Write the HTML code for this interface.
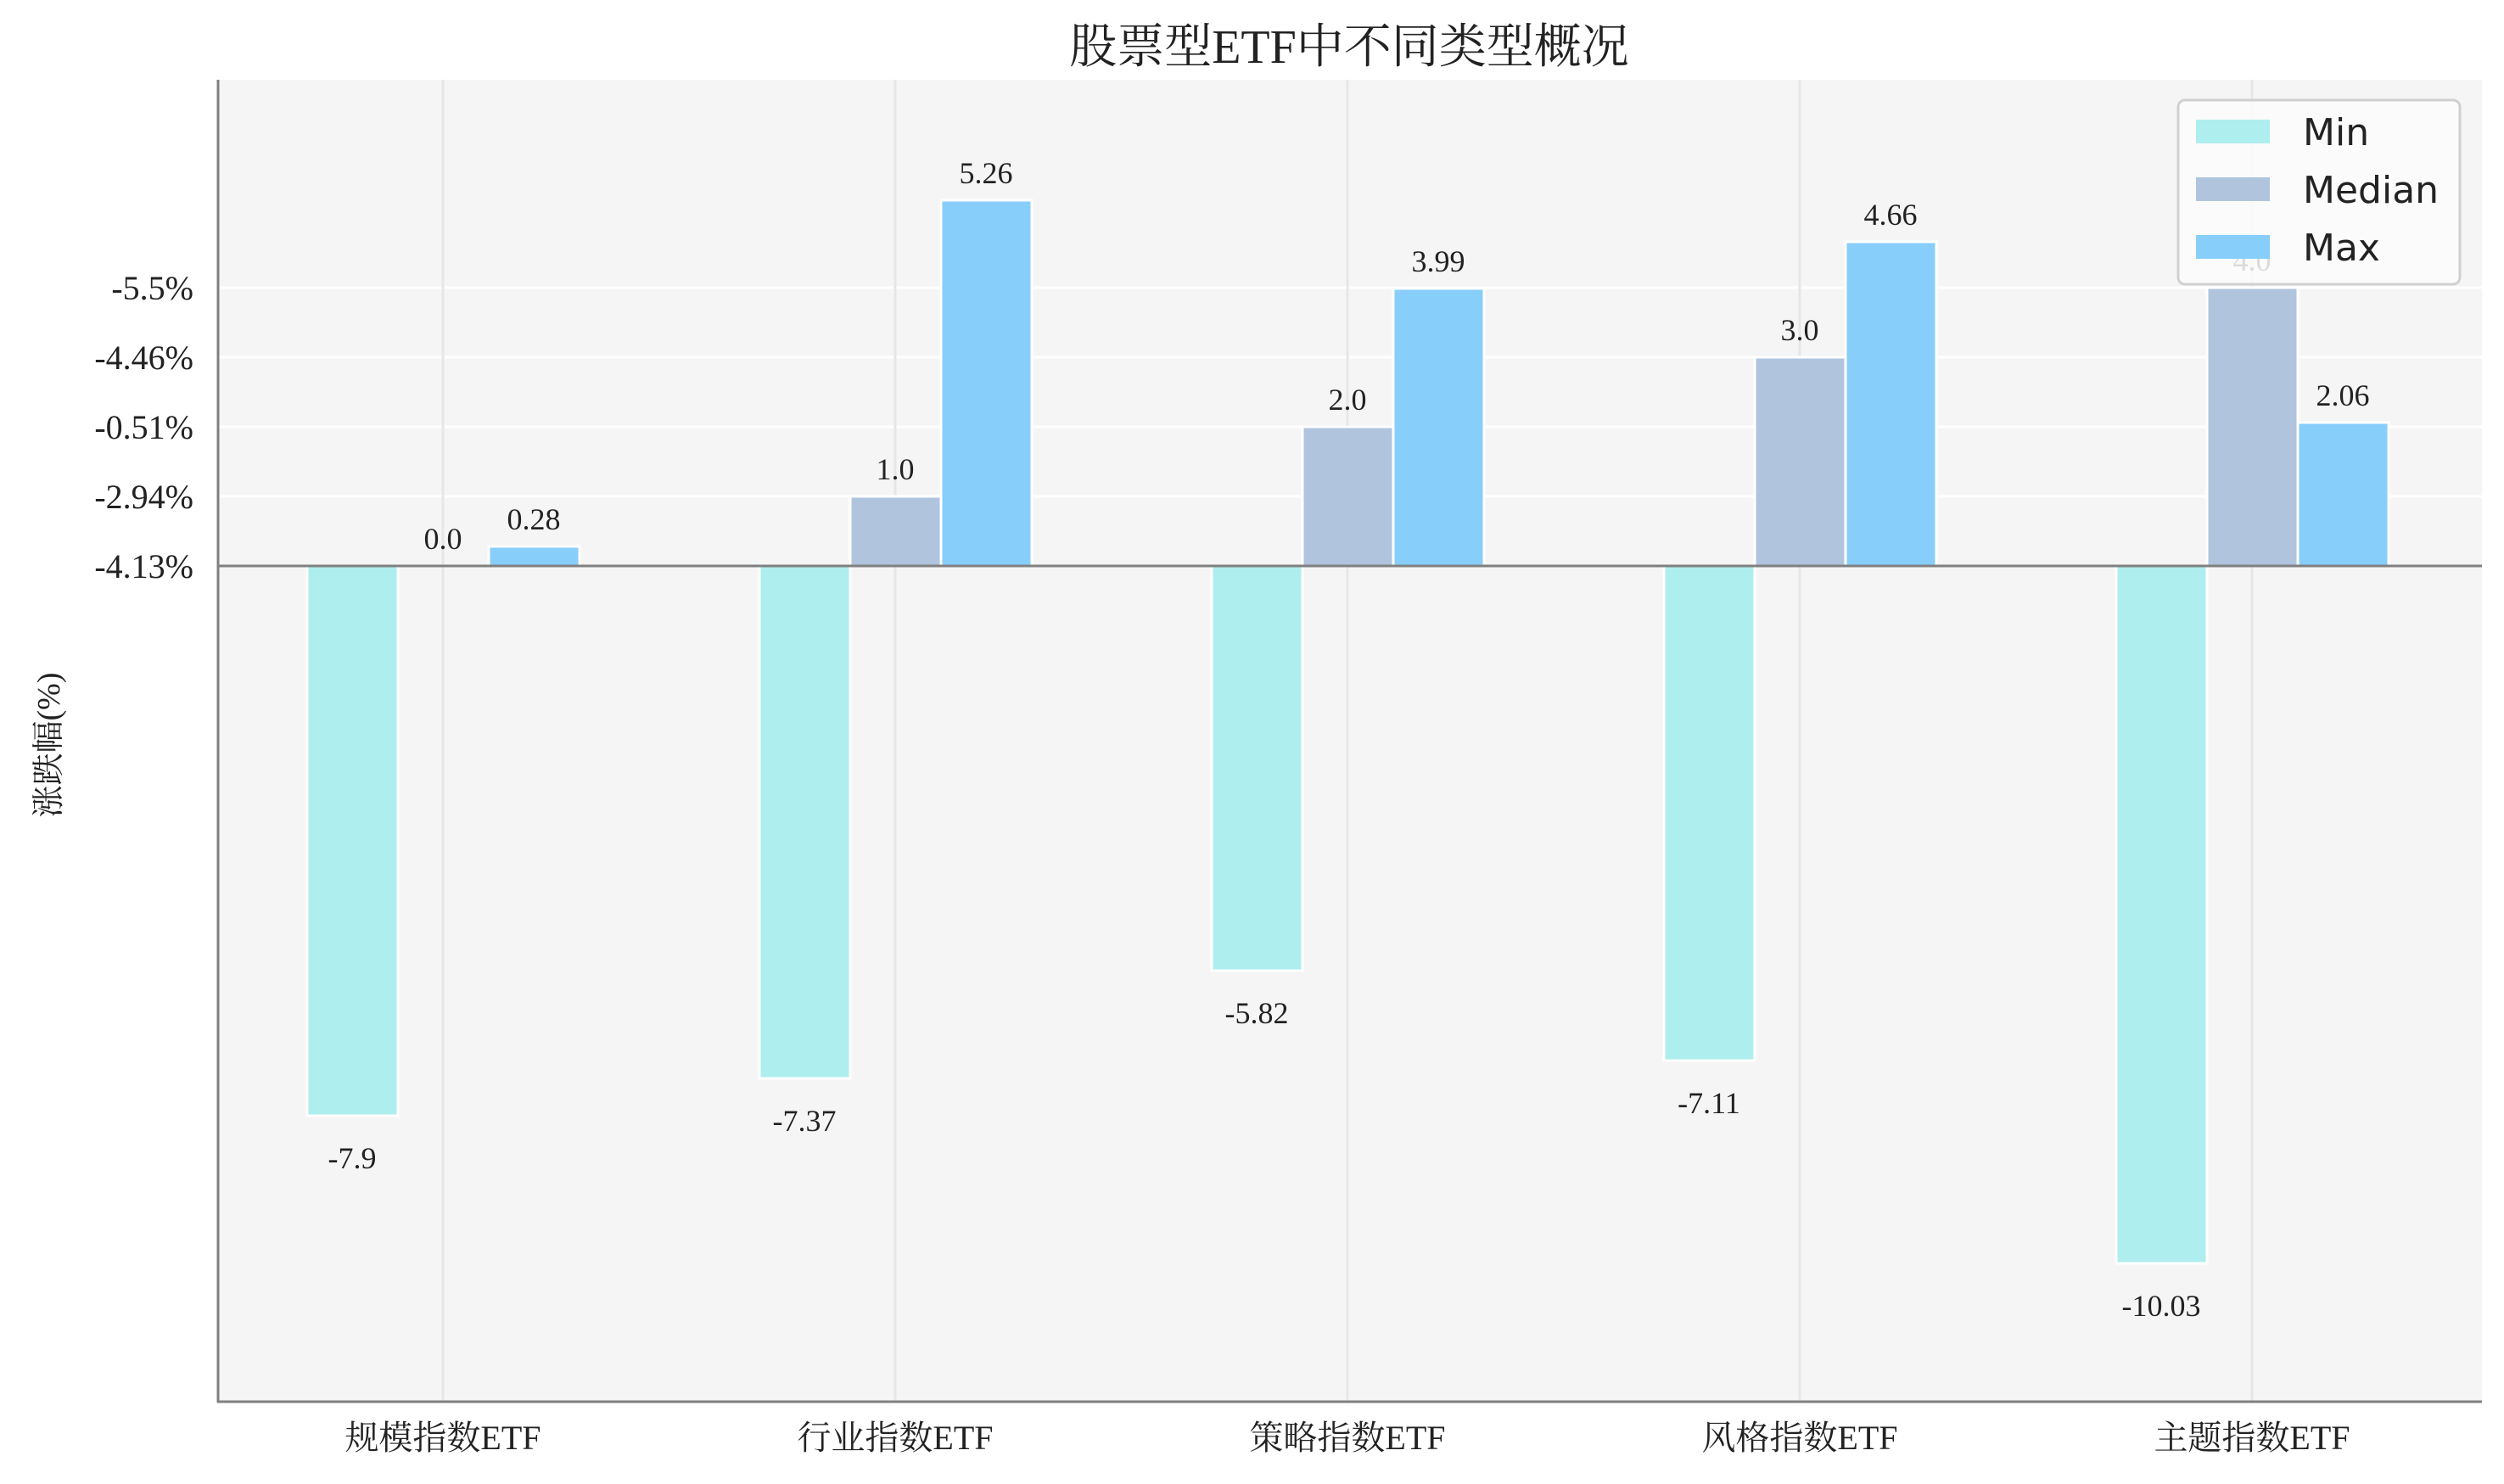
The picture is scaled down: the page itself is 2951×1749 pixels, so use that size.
<!DOCTYPE html>
<html><head><meta charset="utf-8">
<style>
html,body{margin:0;padding:0;background:#fff;}
svg{display:block;}
.s{font-family:"Liberation Serif","Noto Serif CJK SC",serif;fill:#222;}
.l{font-family:"DejaVu Sans","Liberation Sans",sans-serif;fill:#222;}
</style></head><body>
<svg width="2951" height="1749" viewBox="0 0 2951 1749" xmlns="http://www.w3.org/2000/svg">
<rect x="0" y="0" width="2951" height="1749" fill="#fff"/>
<rect x="257" y="94" width="2668" height="1558" fill="#f5f5f5"/>
<g stroke="#ffffff" stroke-width="3">
<line x1="257" x2="2925" y1="339" y2="339"/>
<line x1="257" x2="2925" y1="421" y2="421"/>
<line x1="257" x2="2925" y1="503" y2="503"/>
<line x1="257" x2="2925" y1="585" y2="585"/>
</g>
<g stroke="#e6e6e6" stroke-width="3">
<line x1="522" x2="522" y1="94" y2="1652"/>
<line x1="1055" x2="1055" y1="94" y2="1652"/>
<line x1="1588" x2="1588" y1="94" y2="1652"/>
<line x1="2121" x2="2121" y1="94" y2="1652"/>
<line x1="2654" x2="2654" y1="94" y2="1652"/>
</g>
<g stroke="#fff" stroke-width="3">
<rect x="362" y="667" width="107" height="648" fill="#afeeee"/>
<rect x="576" y="644" width="107" height="23" fill="#87cefa"/>
<rect x="895" y="667" width="107" height="604" fill="#afeeee"/>
<rect x="1002" y="585" width="107" height="82" fill="#b0c4de"/>
<rect x="1109" y="236" width="107" height="431" fill="#87cefa"/>
<rect x="1428" y="667" width="107" height="477" fill="#afeeee"/>
<rect x="1535" y="503" width="107" height="164" fill="#b0c4de"/>
<rect x="1642" y="340" width="107" height="327" fill="#87cefa"/>
<rect x="1961" y="667" width="107" height="583" fill="#afeeee"/>
<rect x="2068" y="421" width="107" height="246" fill="#b0c4de"/>
<rect x="2175" y="285" width="107" height="382" fill="#87cefa"/>
<rect x="2494" y="667" width="107" height="822" fill="#afeeee"/>
<rect x="2601" y="339" width="107" height="328" fill="#b0c4de"/>
<rect x="2708" y="498" width="107" height="169" fill="#87cefa"/>
</g>
<line x1="257" x2="2925" y1="667" y2="667" stroke="#808080" stroke-width="3"/>
<line x1="257" x2="257" y1="94" y2="1653" stroke="#808080" stroke-width="3"/>
<line x1="256" x2="2925" y1="1652" y2="1652" stroke="#808080" stroke-width="3"/>
<g class="s" font-size="36" text-anchor="middle">
<text x="415" y="1377">-7.9</text>
<text x="522" y="647">0.0</text>
<text x="629" y="624">0.28</text>
<text x="948" y="1333">-7.37</text>
<text x="1055" y="565">1.0</text>
<text x="1162" y="216">5.26</text>
<text x="1481" y="1206">-5.82</text>
<text x="1588" y="483">2.0</text>
<text x="1695" y="320">3.99</text>
<text x="2014" y="1312">-7.11</text>
<text x="2121" y="401">3.0</text>
<text x="2228" y="265">4.66</text>
<text x="2547" y="1551">-10.03</text>
<text x="2654" y="319">4.0</text>
<text x="2761" y="478">2.06</text>
</g>
<g class="s" font-size="40" text-anchor="end">
<text x="228" y="353">-5.5%</text>
<text x="228" y="435">-4.46%</text>
<text x="228" y="517">-0.51%</text>
<text x="228" y="599">-2.94%</text>
<text x="228" y="681">-4.13%</text>
</g>
<g class="s" font-size="40" text-anchor="middle">
<text x="522" y="1708">规模指数ETF</text>
<text x="1055" y="1708">行业指数ETF</text>
<text x="1588" y="1708">策略指数ETF</text>
<text x="2121" y="1708">风格指数ETF</text>
<text x="2654" y="1708">主题指数ETF</text>
</g>
<text class="s" font-size="38" text-anchor="middle" transform="translate(70,878) rotate(-90)">涨跌幅(%)</text>
<text class="s" x="1590" y="74" font-size="56" text-anchor="middle">股票型ETF中不同类型概况</text>
<rect x="2567" y="118" width="332" height="217" rx="8" ry="8" fill="#fbfbfb" fill-opacity="0.85" stroke="#d0d0d0" stroke-width="3"/>
<rect x="2588" y="141" width="87" height="28" fill="#afeeee"/>
<rect x="2588" y="209" width="87" height="28" fill="#b0c4de"/>
<rect x="2588" y="277" width="87" height="28" fill="#87cefa"/>
<g class="l" font-size="44">
<text x="2714" y="171">Min</text>
<text x="2714" y="239">Median</text>
<text x="2714" y="307">Max</text>
</g>
</svg>
</body></html>
